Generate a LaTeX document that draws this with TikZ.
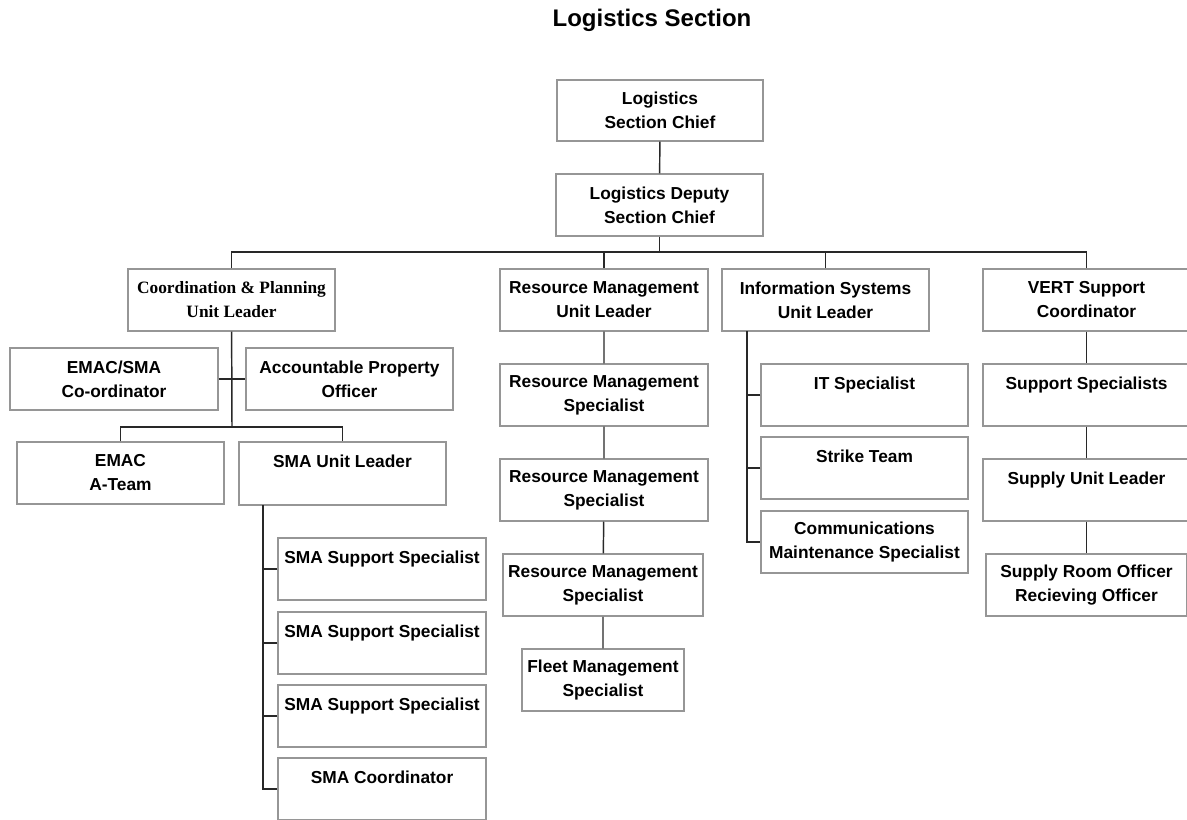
\documentclass[tikz,border=0pt]{standalone}
\usepackage{fontspec}
\setmainfont{Liberation Sans}
\newfontfamily\timesfont{Liberation Serif}
\usepackage{tikz}
\definecolor{boxgray}{RGB}{150,150,150}
\definecolor{linedark}{RGB}{40,40,40}
\newcommand{\blankline}{\phantom{X}}
\tikzset{
  unit/.style={draw=boxgray, line width=1.1pt, minimum width=155.25pt, minimum height=46.5pt,
    inner sep=0pt, align=center, font=\bfseries\fontsize{13}{18}\selectfont},
  link/.style={draw=linedark, line width=1.1pt}
}

\begin{document}
\begin{tikzpicture}[x=0.75pt,y=0.75pt,yscale=-1,xscale=1]
				\useasboundingbox (0,0) rectangle (1187,819);
				
				% Text Node
				\draw (652,20.5) node (title) [font=\bfseries\fontsize{18}{22}\selectfont] {Logistics Section};
				
				% Text Node
				\node (chief) [unit, minimum height=45.75pt, minimum width=154.5pt] at (660,110.5) {Logistics\\Section Chief};
				\node (deputy) [unit] at (659.5,205) {Logistics Deputy\\Section Chief};
				
				%Unit leaders
				\node (cpl) [unit, font=\timesfont\bfseries\fontsize{13}{18}\selectfont] at (231.5,300) {Coordination \& Planning\\Unit Leader};
				\node (rmu) [unit, minimum width=156pt] at (604,300) {Resource Management\\Unit Leader};
				\node (isu) [unit] at (825.5,300) {Information Systems\\Unit Leader};
				\node (vert) [unit] at (1086.5,300) {VERT Support\\Coordinator};
				
				%Coordination & Planning branch
				\node (emacsma) [unit, minimum width=156pt] at (114,379) {EMAC/SMA\\Co-ordinator};
				\node (apo) [unit] at (349.5,379) {Accountable Property\\Officer};
				\node (emacteam) [unit] at (120.5,473) {EMAC\\A-Team};
				\node (smaul) [unit, minimum height=47.25pt] at (342.5,473.5) {SMA Unit Leader\\\blankline};
				\node (sma1) [unit, minimum width=156pt] at (382,569) {SMA Support Specialist\\\blankline};
				\node (sma2) [unit, minimum width=156pt] at (382,643) {SMA Support Specialist\\\blankline};
				\node (sma3) [unit, minimum width=156pt] at (382,716) {SMA Support Specialist\\\blankline};
				\node (sma4) [unit, minimum width=156pt] at (382,789) {SMA Coordinator\\\blankline};
				
				%Resource Management branch
				\node (rms1) [unit, minimum width=156pt] at (604,395) {Resource Management\\Specialist};
				\node (rms2) [unit, minimum width=156pt] at (604,490) {Resource Management\\Specialist};
				\node (rms3) [unit, minimum width=150pt] at (603,585) {Resource Management\\Specialist};
				\node (fleet) [unit, minimum width=121.5pt] at (603,680) {Fleet Management\\Specialist};
				
				%Information Systems branch
				\node (it) [unit] at (864.5,395) {IT Specialist\\\blankline};
				\node (strike) [unit] at (864.5,468) {Strike Team\\\blankline};
				\node (comm) [unit] at (864.5,542) {Communications\\Maintenance Specialist};
				
				%VERT branch
				\node (ss) [unit] at (1086.5,395) {Support Specialists\\\blankline};
				\node (sul) [unit] at (1086.5,490) {Supply Unit Leader\\\blankline};
				\node (sro) [unit, minimum width=150.75pt] at (1086.5,585) {Supply Room Officer\\Recieving Officer};
				
				%Straight Lines
				\coordinate (bus) at (659.5,252);
				\coordinate (cpljoin) at (232,427);
				\coordinate (smaspine) at (263,505);
				\coordinate (isspine) at (747,331);
				\draw [link] (chief) -- (deputy);
				\draw [link] (deputy) -- (bus);
				\draw [link] (cpl.north) |- (bus) -| (vert.north);
				\draw [link] (rmu.north) -- (rmu.north |- bus);
				\draw [link] (isu.north) -- (isu.north |- bus);
				
				\draw [link] (cpl) -- (cpljoin);
				\draw [link] (emacsma) -- (apo);
				\draw [link] (emacteam.north) |- (cpljoin) -| (smaul.north);
				\draw [link] (smaspine) |- (sma4.west);
				\foreach \n in {1,2,3}
				  \draw [link] (sma\n.west) -- (sma\n.west -| smaspine);
				
				\draw [link] (rmu) -- (rms1) -- (rms2) -- (rms3) -- (fleet);
				
				\draw [link] (isspine) |- (comm.west);
				\draw [link] (it.west) -- (it.west -| isspine);
				\draw [link] (strike.west) -- (strike.west -| isspine);
				
				\draw [link] (vert) -- (ss) -- (sul) -- (sro);
				
				\end{tikzpicture}
\end{document}
